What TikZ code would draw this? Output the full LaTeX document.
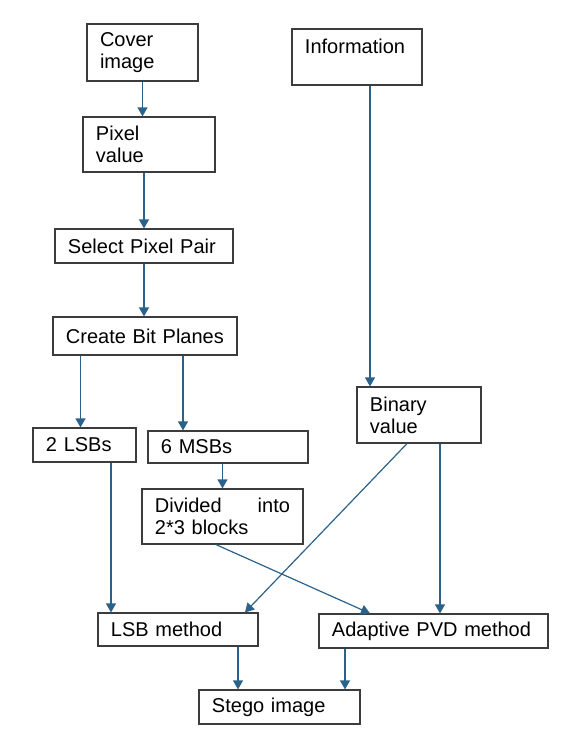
\documentclass[tikz,border=0pt]{standalone}
\usepackage{fontspec}
\setmainfont{Liberation Sans}
\usepackage{xcolor}
\usetikzlibrary{arrows.meta, positioning, calc}

\definecolor{flowblue}{RGB}{44,98,138}
\definecolor{boxgray}{RGB}{60,60,60}

\tikzset{
  blk/.style={draw=boxgray, line width=0.6pt, align=left, inner xsep=6.5pt, inner ysep=0pt,
              font=\fontsize{10}{11}\selectfont},
  arr/.style={-{Triangle[length=4.5pt,width=5pt]}, flowblue, line width=0.6pt}
}

\begin{document}
\begin{tikzpicture}[x=0.5pt, y=-0.5pt]
\useasboundingbox (0,0) rectangle (574,736);

% Left column
\node[blk, text width=42.5pt, minimum height=28.5pt] (cover) at (142.5,52.5) {Cover\\image};
\node[blk, text width=53pt, minimum height=27.5pt] (pixel) at (149,144.5) {Pixel\\value};
\node[blk, text width=76pt, minimum height=17pt] (select) at (144,246) {Select Pixel Pair};
\node[blk, text width=79pt, minimum height=19pt] (create) at (145,336) {\mbox{Create Bit Planes}};
\node[blk, text width=38.5pt, minimum height=17pt] (lsbs) at (84.5,445) {2 LSBs};
\node[blk, text width=67pt, minimum height=16pt] (msbs) at (228,447) {6 MSBs};
\node[blk, text width=67.5pt, minimum height=27.5pt] (divided) at (222.5,516.5) {Divided\hfill into\\2*3 blocks};

% Right column
\node[blk, text width=52pt, minimum height=28pt] (info) at (357,57) {Information\\\mbox{}};
\node[blk, text width=49pt, minimum height=28pt] (binary) at (419,415) {Binary\\value};

% Embedding and output
\node[blk, text width=67pt, minimum height=16.5pt] (lsbm) at (178,629.5) {LSB method};
\node[blk, text width=101.5pt, minimum height=17pt] (pvd) at (433.5,631) {\mbox{Adaptive PVD method}};
\node[blk, text width=67.5pt, minimum height=17pt] (stego) at (279.5,707) {Stego image};

% Arrows
\draw[arr] (cover.south) -- (cover.south |- pixel.north);
\draw[arr] (pixel.south -| select.north) -- (select.north);
\draw[arr] (select.south) -- (select.south |- create.north);
\draw[arr] ([xshift=-2pt]create.south -| lsbs.north) -- ([xshift=-2pt]lsbs.north);
\draw[arr] ([xshift=19pt]create.south) -- ([xshift=19pt]create.south |- msbs.north);
\draw[arr] (msbs.south -| divided.north) -- (divided.north);
\draw[arr] ([xshift=13.25pt]lsbs.south) -- ([xshift=13.25pt]lsbs.south |- lsbm.north);
\draw[arr] ([xshift=6.5pt]info.south) -- ([xshift=6.5pt]info.south |- binary.north);
\draw[arr] ([xshift=-6pt]binary.south) -- ([xshift=33.5pt]lsbm.north);
\draw[arr] ([xshift=10.5pt]binary.south) -- ([xshift=10.5pt]binary.south |- pvd.north);
\draw[arr] ([xshift=-3.25pt]divided.south) -- ([xshift=-31.75pt]pvd.north);
\draw[arr] ([xshift=30pt]lsbm.south) -- ([xshift=30pt]lsbm.south |- stego.north);
\draw[arr] ([xshift=-44.25pt]pvd.south) -- ([xshift=-44.25pt]pvd.south |- stego.north);
\end{tikzpicture}
\end{document}
